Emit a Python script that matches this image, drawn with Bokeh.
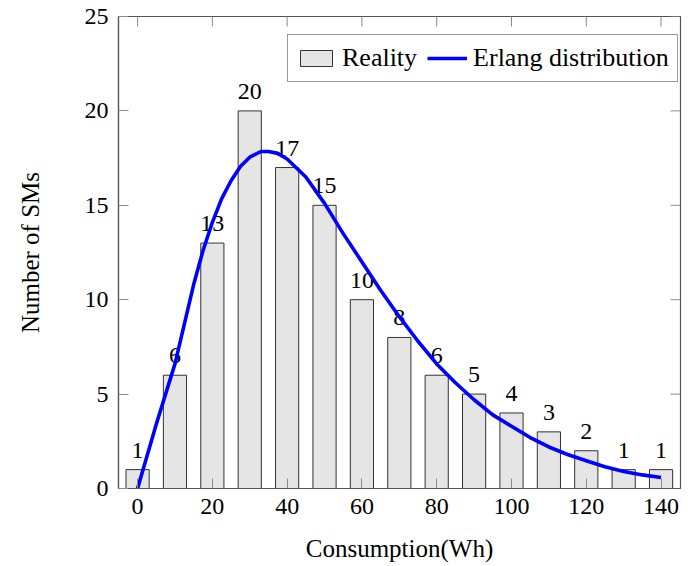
import math
from bokeh.plotting import figure
from bokeh.models import ColumnDataSource, Range1d, FixedTicker, Legend, LegendItem
from bokeh.core.properties import value
from bokeh.embed import file_html
from bokeh.resources import INLINE

# Data
consumption = [0, 10, 20, 30, 40, 50, 60, 70, 80, 90, 100, 110, 120, 130, 140]
num_sms = [1, 6, 13, 20, 17, 15, 10, 8, 6, 5, 4, 3, 2, 1, 1]

erlang_x = [0, 5, 10, 15, 17.5, 20, 22.5, 25, 27.5, 30, 33, 35, 37.5, 40, 45, 50, 55,
            60, 65, 70, 75, 80, 85, 90, 95, 100, 105, 110, 115, 120, 125, 130, 135, 140]
erlang_y = [0, 3.4, 6.6, 10.8, 12.6, 14.1, 15.35, 16.3, 17.05, 17.55, 17.85, 17.85,
            17.75, 17.45, 16.5, 15.1, 13.5, 12.0, 10.5, 9.1, 7.8, 6.6, 5.6, 4.7, 3.9,
            3.3, 2.7, 2.2, 1.8, 1.47, 1.15, 0.9, 0.72, 0.58]

x_ticks = [0, 20, 40, 60, 80, 100, 120, 140]
y_ticks = [0, 5, 10, 15, 20, 25]
x_min, x_max = -5.1, 145.2
y_min, y_max = 0, 25

FONT = "Liberation Serif"
AX = "#555555"
TICK = "#8a8a8a"

p = figure(width=697, height=566, output_backend="svg", toolbar_location=None,
           x_range=Range1d(x_min, x_max), y_range=Range1d(y_min, y_max),
           min_border_left=118, min_border_right=17, min_border_top=16,
           min_border_bottom=78)
p.grid.visible = False
p.outline_line_color = AX
p.outline_line_width = 1.2
p.background_fill_color = "white"
p.border_fill_color = "white"

bars = ColumnDataSource(dict(x=consumption, top=num_sms, lbl=[str(v) for v in num_sms]))
r_bar = p.vbar(x="x", top="top", width=6.2, source=bars, fill_color="#e5e5e5",
               line_color="#333333", line_width=1)
p.text(x="x", y="top", text="lbl", source=bars, text_align="center",
       text_baseline="bottom", y_offset=-12, text_font=value(FONT),
       text_font_size="24px", text_color="black")

curve = ColumnDataSource(dict(x=erlang_x, y=erlang_y))
r_line = p.line(x="x", y="y", source=curve, line_color="#0000ff", line_width=3.6,
                line_join="round")

# inward ticks on the top and right sides of the frame
p.ray(x=x_ticks, y=[y_max] * len(x_ticks), length=10, length_units="screen",
      angle=-math.pi / 2, line_color=TICK, line_width=1)
p.ray(x=[x_max] * len(y_ticks), y=y_ticks, length=10, length_units="screen",
      angle=math.pi, line_color=TICK, line_width=1)

p.xaxis.ticker = FixedTicker(ticks=x_ticks)
p.yaxis.ticker = FixedTicker(ticks=y_ticks)
for ax in [p.xaxis[0], p.yaxis[0]]:
    ax.axis_line_color = AX
    ax.axis_line_width = 1.2
    ax.major_tick_line_color = TICK
    ax.major_tick_in = 10
    ax.major_tick_out = 0
    ax.minor_tick_line_color = None
    ax.major_label_text_font = FONT
    ax.major_label_text_font_size = "24px"
    ax.major_label_text_color = "black"
    ax.axis_label_text_font = FONT
    ax.axis_label_text_font_size = "25px"
    ax.axis_label_text_font_style = "normal"
    ax.axis_label_text_color = "black"

p.xaxis.axis_label = "Consumption(Wh)"
p.xaxis.major_label_standoff = 10
p.xaxis.axis_label_standoff = 18
p.yaxis.axis_label = "Number of SMs"
p.yaxis.major_label_standoff = 10
p.yaxis.axis_label_standoff = 38

legend = Legend(items=[LegendItem(label="Reality", renderers=[r_bar]),
                       LegendItem(label="Erlang distribution", renderers=[r_line])],
                location=(169, 406), orientation="horizontal",
                label_text_font=FONT, label_text_font_size="26px",
                label_text_color="black", glyph_width=40, glyph_height=20,
                label_standoff=6, spacing=10, padding=8,
                border_line_color="#333333", border_line_width=1,
                background_fill_alpha=1.0)
p.add_layout(legend, "center")

open("out.html", "w").write(file_html(p, INLINE))
